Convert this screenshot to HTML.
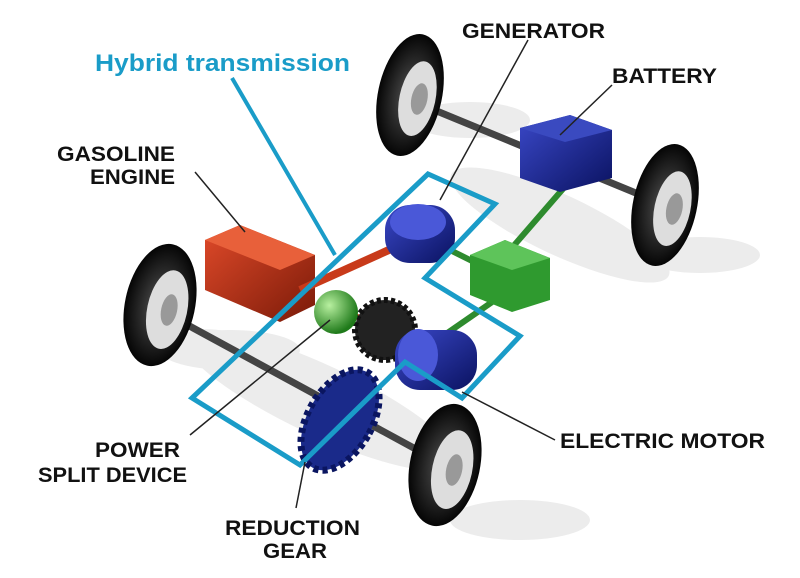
<!DOCTYPE html>
<html><head><meta charset="utf-8"><style>
html,body{margin:0;padding:0;background:#fff;}
svg{display:block}
text{font-family:"Liberation Sans",Arial,sans-serif;font-weight:bold;}
</style></head><body>
<svg width="800" height="578" viewBox="0 0 800 578" xmlns="http://www.w3.org/2000/svg">
<defs>
<radialGradient id="tire" cx="50%" cy="50%" r="50%"><stop offset="0" stop-color="#555"/><stop offset="1" stop-color="#050505"/></radialGradient>
<linearGradient id="blue" x1="0" y1="0" x2="1" y2="1"><stop offset="0" stop-color="#3a48c8"/><stop offset="1" stop-color="#0a1260"/></linearGradient>
<linearGradient id="red" x1="0" y1="0" x2="1" y2="1"><stop offset="0" stop-color="#e04a2a"/><stop offset="1" stop-color="#7a1a08"/></linearGradient>
<radialGradient id="ball" cx="35%" cy="35%" r="65%"><stop offset="0" stop-color="#b8f0a0"/><stop offset="1" stop-color="#1f7a1a"/></radialGradient>
</defs>
<g fill="#ececec">
<ellipse cx="560" cy="225" rx="120" ry="30" transform="rotate(25 560 225)"/>
<ellipse cx="320" cy="400" rx="150" ry="35" transform="rotate(25 320 400)"/>
<ellipse cx="470" cy="120" rx="60" ry="18"/>
<ellipse cx="700" cy="255" rx="60" ry="18"/>
<ellipse cx="230" cy="350" rx="70" ry="20"/>
<ellipse cx="520" cy="520" rx="70" ry="20"/>
</g>
<line x1="410" y1="100" x2="665" y2="205" stroke="#444" stroke-width="7"/>
<line x1="160" y1="310" x2="445" y2="465" stroke="#444" stroke-width="7"/>
<line x1="575" y1="175" x2="510" y2="250" stroke="#2e8b2e" stroke-width="6"/>
<line x1="495" y1="300" x2="430" y2="345" stroke="#2e8b2e" stroke-width="6"/>
<line x1="440" y1="245" x2="480" y2="265" stroke="#2e8b2e" stroke-width="6"/>
<g transform="rotate(12 410 95)"><ellipse cx="410" cy="95" rx="32" ry="62" fill="url(#tire)"/><ellipse cx="418" cy="97" rx="18" ry="38" fill="#ddd"/><ellipse cx="420" cy="97" rx="8" ry="16" fill="#999"/></g>
<g transform="rotate(12 665 205)"><ellipse cx="665" cy="205" rx="32" ry="62" fill="url(#tire)"/><ellipse cx="673" cy="207" rx="18" ry="38" fill="#ddd"/><ellipse cx="675" cy="207" rx="8" ry="16" fill="#999"/></g>
<polygon points="520,128 570,115 612,130 612,178 560,192 520,178" fill="url(#blue)"/>
<polygon points="520,128 570,115 612,130 565,142" fill="#3a4ac0"/>
<polygon points="470,255 505,240 550,258 550,300 512,312 470,295" fill="#2f9a2f"/>
<polygon points="470,255 505,240 550,258 512,270" fill="#5ec45a"/>
<polygon points="205,240 240,225 315,255 315,305 280,322 205,290" fill="url(#red)"/>
<polygon points="205,240 240,225 315,255 280,270" fill="#e8603a"/>
<line x1="300" y1="290" x2="400" y2="245" stroke="#c83a1a" stroke-width="8"/>
<line x1="330" y1="305" x2="410" y2="340" stroke="#c83a1a" stroke-width="6"/>
<rect x="385" y="205" width="70" height="58" rx="25" fill="url(#blue)"/>
<ellipse cx="418" cy="222" rx="28" ry="18" fill="#4a58d8"/>
<circle cx="385" cy="330" r="30" fill="#222" stroke="#111" stroke-width="6" stroke-dasharray="4 3"/>
<ellipse cx="340" cy="420" rx="32" ry="55" transform="rotate(30 340 420)" fill="#1a2a8a" stroke="#0a1560" stroke-width="7" stroke-dasharray="5 4"/>
<circle cx="336" cy="312" r="22" fill="url(#ball)"/>
<rect x="395" y="330" width="82" height="60" rx="25" fill="url(#blue)"/>
<ellipse cx="418" cy="355" rx="20" ry="26" fill="#4a58d8"/>
<g transform="rotate(12 160 305)"><ellipse cx="160" cy="305" rx="35" ry="62" fill="url(#tire)"/><ellipse cx="168" cy="308" rx="20" ry="40" fill="#ddd"/><ellipse cx="170" cy="308" rx="8" ry="16" fill="#999"/></g>
<g transform="rotate(12 445 465)"><ellipse cx="445" cy="465" rx="35" ry="62" fill="url(#tire)"/><ellipse cx="453" cy="468" rx="20" ry="40" fill="#ddd"/><ellipse cx="455" cy="468" rx="8" ry="16" fill="#999"/></g>
<polygon points="192,398 428,174 495,204 425,278 520,336 462,398 405,362 300,465" fill="none" stroke="#1a9cc8" stroke-width="5" stroke-linejoin="miter"/>
<line x1="232" y1="78" x2="335" y2="255" stroke="#1a9cc8" stroke-width="4"/>
<g stroke="#222" stroke-width="1.5">
<line x1="528" y1="40" x2="440" y2="200"/>
<line x1="612" y1="85" x2="560" y2="135"/>
<line x1="195" y1="172" x2="245" y2="232"/>
<line x1="190" y1="435" x2="330" y2="320"/>
<line x1="296" y1="508" x2="305" y2="462"/>
<line x1="555" y1="440" x2="462" y2="392"/>
</g>
<text x="95" y="71" font-size="24" fill="#1a9cc8" textLength="255" lengthAdjust="spacingAndGlyphs">Hybrid transmission</text>
<g font-size="21" fill="#111">
<text x="462" y="38" textLength="143" lengthAdjust="spacingAndGlyphs">GENERATOR</text>
<text x="612" y="83" textLength="105" lengthAdjust="spacingAndGlyphs">BATTERY</text>
<text x="57" y="161" textLength="118" lengthAdjust="spacingAndGlyphs">GASOLINE</text>
<text x="90" y="184" textLength="85" lengthAdjust="spacingAndGlyphs">ENGINE</text>
<text x="95" y="457" textLength="85" lengthAdjust="spacingAndGlyphs">POWER</text>
<text x="38" y="482" textLength="149" lengthAdjust="spacingAndGlyphs">SPLIT DEVICE</text>
<text x="225" y="535" textLength="135" lengthAdjust="spacingAndGlyphs">REDUCTION</text>
<text x="263" y="558" textLength="64" lengthAdjust="spacingAndGlyphs">GEAR</text>
<text x="560" y="448" textLength="205" lengthAdjust="spacingAndGlyphs">ELECTRIC MOTOR</text>
</g>
</svg>
</body></html>
